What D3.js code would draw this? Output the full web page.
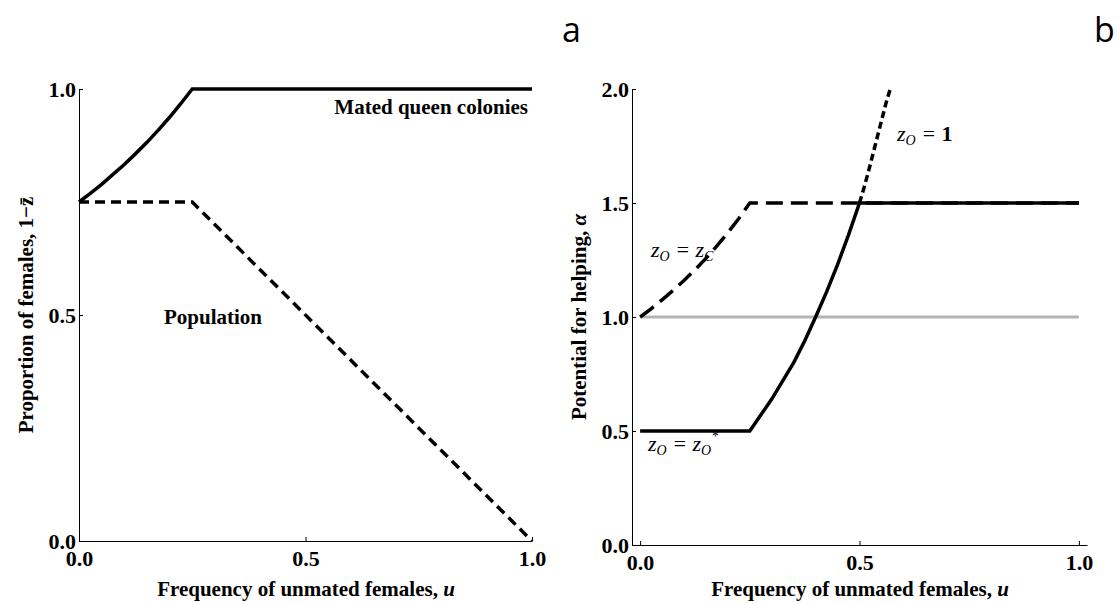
<!DOCTYPE html>
<html>
<head>
<meta charset="utf-8">
<script src="https://cdn.jsdelivr.net/npm/d3@7"></script>
<style>
  body { margin: 0; background: #fff; }
  svg { display: block; }
  .tick text { font-family: "Liberation Serif", serif; font-weight: bold; font-size: 22px; fill: #000; }
  .title { font-family: "Liberation Serif", serif; font-weight: bold; font-size: 21px; }
  .note { font-family: "Liberation Serif", serif; font-style: italic; font-size: 22px; }
  .panel-letter { font-family: "Open Sans", sans-serif; font-size: 34px; }
</style>
</head>
<body>
<svg id="chart" width="1119" height="604"></svg>
<script>
// panel a: proportion of females vs frequency of unmated females
const matedQueen = [
    [0, 0.75], [0.025, 0.769], [0.05, 0.789], [0.075, 0.811], [0.1, 0.833],
    [0.125, 0.857], [0.15, 0.882], [0.175, 0.909], [0.2, 0.9375], [0.225, 0.968],
    [0.25, 1.0], [1.0, 1.0]
];
const population = [[0, 0.75], [0.25, 0.75], [1.0, 0]];

// panel b: potential for helping
const neutral = [[0, 1.0], [1.0, 1.0]];
const zoZc = [
    [0, 1.0], [0.025, 1.036], [0.05, 1.075], [0.075, 1.116], [0.1, 1.16],
    [0.125, 1.207], [0.15, 1.257], [0.175, 1.312], [0.2, 1.37], [0.225, 1.432],
    [0.25, 1.5], [1.0, 1.5]
];
const zoStar = [
    [0, 0.5], [0.25, 0.5], [0.275, 0.57], [0.3, 0.64], [0.325, 0.72], [0.35, 0.8],
    [0.375, 0.895], [0.4, 1.0], [0.425, 1.11], [0.45, 1.23], [0.475, 1.36],
    [0.5, 1.5], [1.0, 1.5]
];
const zoOne = [
    [0.5, 1.5], [0.51, 1.565], [0.52, 1.635], [0.53, 1.71], [0.54, 1.785],
    [0.55, 1.86], [0.56, 1.935], [0.57, 2.0]
];

const xTicks = [0, 0.5, 1];
const yTicksA = [0, 0.5, 1];
const yTicksB = [0, 0.5, 1, 1.5, 2];

const svg = d3.select('#chart');
const fmt = d3.format('.1f');

function drawAxes(x, y, xt, yt) {
    const g = svg.append('g');
    const [y0] = y.range();
    const [x0] = x.range();

    g.append('g')
        .attr('transform', `translate(0,${y0})`)
        .call(d3.axisBottom(x).tickValues(xt).tickFormat(fmt).tickSizeInner(-4).tickSizeOuter(0).tickPadding(9));
    g.append('g')
        .attr('transform', `translate(${x0},0)`)
        .call(d3.axisLeft(y).tickValues(yt).tickFormat(fmt).tickSizeInner(-4).tickSizeOuter(0).tickPadding(3));

    g.selectAll('.domain').attr('stroke', '#000').attr('stroke-width', 1);
    g.selectAll('.tick line').attr('stroke', '#000');
    return g;
}

function drawLine(x, y, data, color, width, dash) {
    const line = d3.line()
        .x((d) => x(d[0]))
        .y((d) => y(d[1]));
    svg.append('path')
        .datum(data)
        .attr('d', line)
        .attr('fill', 'none')
        .attr('stroke', color)
        .attr('stroke-width', width)
        .attr('stroke-dasharray', dash || null);
}

// ---- panel a
const xA = d3.scaleLinear().domain([0, 1]).range([79, 532]);
const yA = d3.scaleLinear().domain([0, 1]).range([541, 89]);
drawAxes(xA, yA, xTicks, yTicksA);
drawLine(xA, yA, population, '#000', 3.5, '10,6');
drawLine(xA, yA, matedQueen, '#000', 3.5);

svg.append('text').attr('class', 'title')
    .attr('x', 528).attr('y', 114).attr('text-anchor', 'end')
    .text('Mated queen colonies');
svg.append('text').attr('class', 'title')
    .attr('x', 213).attr('y', 324).attr('text-anchor', 'middle')
    .text('Population');

const yTitleA = svg.append('text').attr('class', 'title')
    .attr('transform', 'translate(33,315) rotate(-90)')
    .attr('text-anchor', 'middle');
yTitleA.append('tspan').text('Proportion of females, 1\u2212');
yTitleA.append('tspan').text('z\u0304');

const xTitleA = svg.append('text').attr('class', 'title')
    .attr('x', 306).attr('y', 596).attr('text-anchor', 'middle');
xTitleA.append('tspan').text('Frequency of unmated females, ');
xTitleA.append('tspan').attr('font-style', 'italic').text('u');

// ---- panel b
const xB = d3.scaleLinear().domain([-0.0185, 1.0185]).range([632, 1087]);
const yB = d3.scaleLinear().domain([0, 2]).range([545, 89]);
drawAxes(xB, yB, xTicks, yTicksB);
drawLine(xB, yB, neutral, '#b3b3b3', 3);
drawLine(xB, yB, zoZc, '#000', 3.5, '17,8');
drawLine(xB, yB, zoStar, '#000', 3.5);
drawLine(xB, yB, zoOne, '#000', 3.5, '7,4');

function zLabel(x, y, rhs, rhsSub, rhsSup) {
    const t = svg.append('text').attr('class', 'note').attr('x', x).attr('y', y);
    t.append('tspan').text('z');
    t.append('tspan').attr('font-size', '14px').attr('dy', 4).text('O');
    t.append('tspan').attr('dy', -4).text(' = ');
    if (rhsSub) {
        t.append('tspan').text('z');
        t.append('tspan').attr('font-size', '14px').attr('dy', 4).text(rhsSub);
        if (rhsSup) t.append('tspan').attr('font-size', '14px').attr('dy', -14).text(rhsSup);
    } else {
        t.append('tspan').attr('font-style', 'normal').attr('font-weight', 'bold').text(rhs);
    }
}
zLabel(897, 141, '1');
zLabel(651, 257, null, 'C');
zLabel(648, 451, null, 'O', '*');

const yTitleB = svg.append('text').attr('class', 'title')
    .attr('transform', 'translate(586,317) rotate(-90)')
    .attr('text-anchor', 'middle');
yTitleB.append('tspan').text('Potential for helping, ');
yTitleB.append('tspan').attr('font-style', 'italic').text('\u03b1');

const xTitleB = svg.append('text').attr('class', 'title')
    .attr('x', 860).attr('y', 596).attr('text-anchor', 'middle');
xTitleB.append('tspan').text('Frequency of unmated females, ');
xTitleB.append('tspan').attr('font-style', 'italic').text('u');

svg.append('text').attr('class', 'panel-letter').attr('x', 562).attr('y', 42).text('a');
svg.append('text').attr('class', 'panel-letter').attr('x', 1094).attr('y', 42).text('b');
</script>
</body>
</html>
